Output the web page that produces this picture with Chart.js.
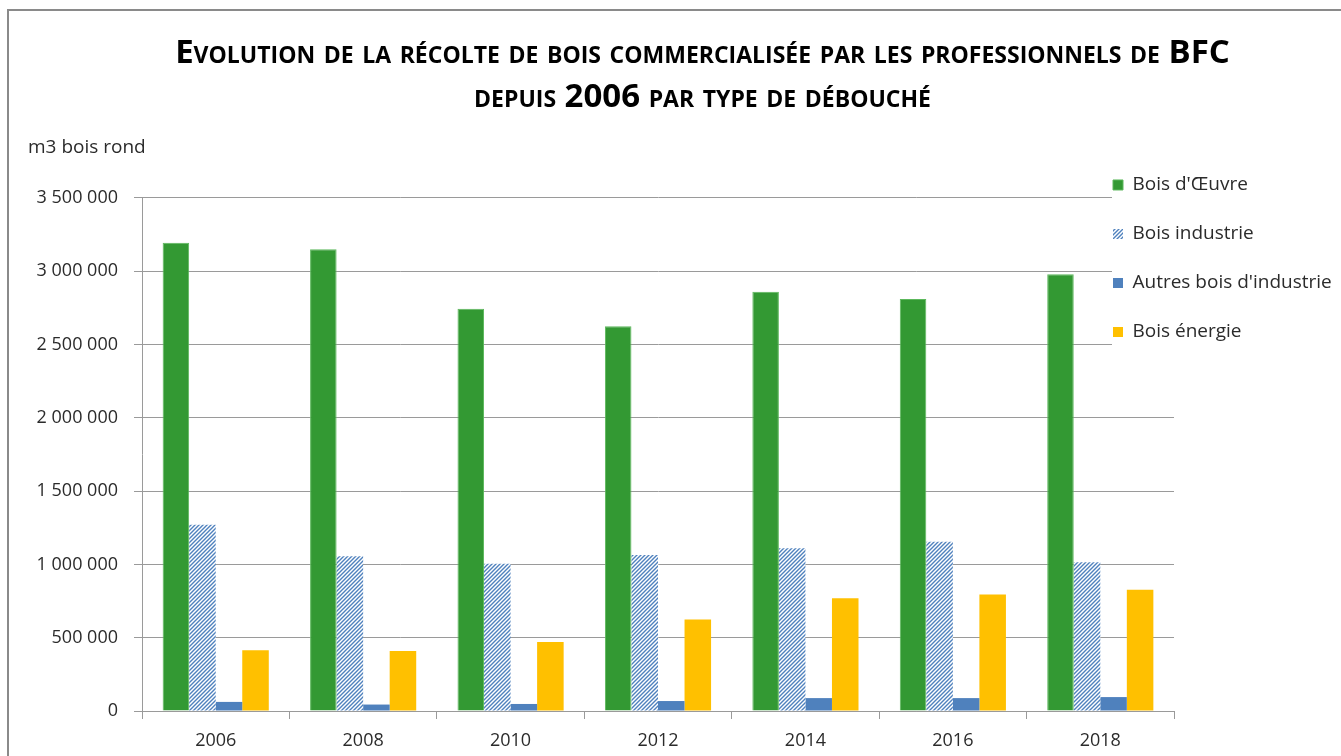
<!DOCTYPE html>
<html>
<head>
<meta charset="utf-8">
<script src="https://cdn.jsdelivr.net/npm/chart.js@4.4.1/dist/chart.umd.min.js"></script>
<style>
  html, body { margin: 0; padding: 0; background: #fff; overflow: hidden; }
  #frame { position: absolute; left: 7px; top: 9px; border: 2px solid #8a8a8a; width: 1378px; height: 790px; }
  #chart { display: block; }
</style>
</head>
<body>
<div id="frame"><canvas id="chart" width="1378" height="790"></canvas></div>
<script>
// data
const years = ['2006', '2008', '2010', '2012', '2014', '2016', '2018'];
const boisOeuvre = [3195000, 3150000, 2745000, 2625000, 2860000, 2810000, 2980000];
const boisIndustrie = [1270000, 1055000, 1005000, 1065000, 1110000, 1155000, 1015000];
const autresBoisIndustrie = [62000, 44000, 48000, 68000, 88000, 88000, 95000];
const boisEnergie = [415000, 410000, 470000, 625000, 770000, 795000, 828000];
const yTicks = [0, 500000, 1000000, 1500000, 2000000, 2500000, 3000000, 3500000];

const seriesNames = ["Bois d'Œuvre", 'Bois industrie', "Autres bois d'industrie", 'Bois énergie'];
const FONT = '"Open Sans"';
const TEXT = '#2b2b2b';
const GRID = '#9a9a9a';
const LEGEND_PAD = 30;

// diagonal hatch for "Bois industrie"
function hatch(color) {
  const c = document.createElement('canvas');
  c.width = 4; c.height = 4;
  const g = c.getContext('2d');
  g.fillStyle = '#ffffff';
  g.fillRect(0, 0, 4, 4);
  g.strokeStyle = color;
  g.lineWidth = 1.4;
  g.beginPath();
  g.moveTo(-1, 5); g.lineTo(5, -1);
  g.moveTo(-1, 1); g.lineTo(1, -1);
  g.moveTo(3, 5); g.lineTo(5, 3);
  g.stroke();
  return g.createPattern(c, 'repeat');
}

function spaced(v) {
  return String(v).replace(/\B(?=(\d{3})+(?!\d))/g, ' ');
}

const unitLabel = {
  id: 'unitLabel',
  afterDraw(chart) {
    const ctx = chart.ctx;
    ctx.save();
    ctx.font = '19px ' + FONT;
    ctx.fillStyle = TEXT;
    ctx.textAlign = 'left';
    ctx.textBaseline = 'middle';
    ctx.fillText('m3 bois rond', chart.scales.y.left + 10, chart.chartArea.top - 50);
    ctx.restore();
  }
};

// legend sits over the top right of the plot, on a white box
const legendPlace = {
  id: 'legendPlace',
  afterLayout(chart) {
    const lg = chart.legend;
    lg.left = chart.chartArea.right - 61 - LEGEND_PAD;
    lg.top = chart.chartArea.top - 22.5 - LEGEND_PAD;
    lg.right = lg.left + lg.width;
    lg.bottom = lg.top + lg.height;
  },
  afterDatasetsDraw(chart) {
    const ctx = chart.ctx;
    const lg = chart.legend;
    ctx.save();
    ctx.fillStyle = '#ffffff';
    ctx.fillRect(chart.chartArea.right - 62, chart.chartArea.top - 20, chart.width, 190);
    ctx.restore();
    lg.draw(chart.chartArea);
  }
};

new Chart(document.getElementById('chart'), {
  type: 'bar',
  data: {
    labels: years,
    datasets: [
      { label: seriesNames[0], data: boisOeuvre, backgroundColor: '#339933', borderColor: '#5cb85c', borderWidth: 1 },
      { label: seriesNames[1], data: boisIndustrie, backgroundColor: hatch('#4f81bd'), borderWidth: 0 },
      { label: seriesNames[2], data: autresBoisIndustrie, backgroundColor: '#4f81bd', borderWidth: 0 },
      { label: seriesNames[3], data: boisEnergie, backgroundColor: '#ffc000', borderWidth: 0 }
    ]
  },
  options: {
    responsive: false,
    animation: false,
    devicePixelRatio: 1,
    layout: { padding: { left: 9, right: 0, top: 0, bottom: 40 } },
    datasets: { bar: { categoryPercentage: 0.72, barPercentage: 1 } },
    plugins: {
      title: {
        display: true,
        text: ['Evolution de la récolte de bois commercialisée par les professionnels de BFC',
               'depuis 2006 par type de débouché'],
        color: '#000',
        font: { family: FONT, size: 33, weight: 'small-caps bold', lineHeight: 1.333 },
        padding: { top: 21, bottom: 78 }
      },
      legend: {
        position: 'chartArea',
        align: 'start',
        labels: {
          boxWidth: 10,
          boxHeight: 10,
          padding: LEGEND_PAD,
          color: TEXT,
          font: { family: FONT, size: 19 }
        }
      },
      tooltip: { enabled: false }
    },
    scales: {
      x: {
        afterFit(scale) { scale.height = 50; },
        grid: { drawOnChartArea: false, tickLength: 8, color: GRID, offset: true },
        border: { color: GRID },
        ticks: { color: TEXT, padding: 11, font: { family: FONT, size: 18 } }
      },
      y: {
        min: 0,
        max: 3500000,
        afterFit(scale) { scale.width = 124; },
        afterBuildTicks(scale) { scale.ticks = yTicks.map(v => ({ value: v })); },
        grid: { color: GRID, tickLength: 8 },
        border: { color: GRID },
        ticks: {
          color: TEXT,
          padding: 16,
          font: { family: FONT, size: 18 },
          callback: v => spaced(v)
        }
      },
      // empty space on the right of the plot, where the legend lives
      yR: {
        type: 'linear',
        position: 'right',
        afterFit(scale) { scale.width = 213; },
        grid: { display: false },
        border: { display: false },
        ticks: { display: false }
      }
    }
  },
  plugins: [unitLabel, legendPlace]
});
</script>
</body>
</html>
